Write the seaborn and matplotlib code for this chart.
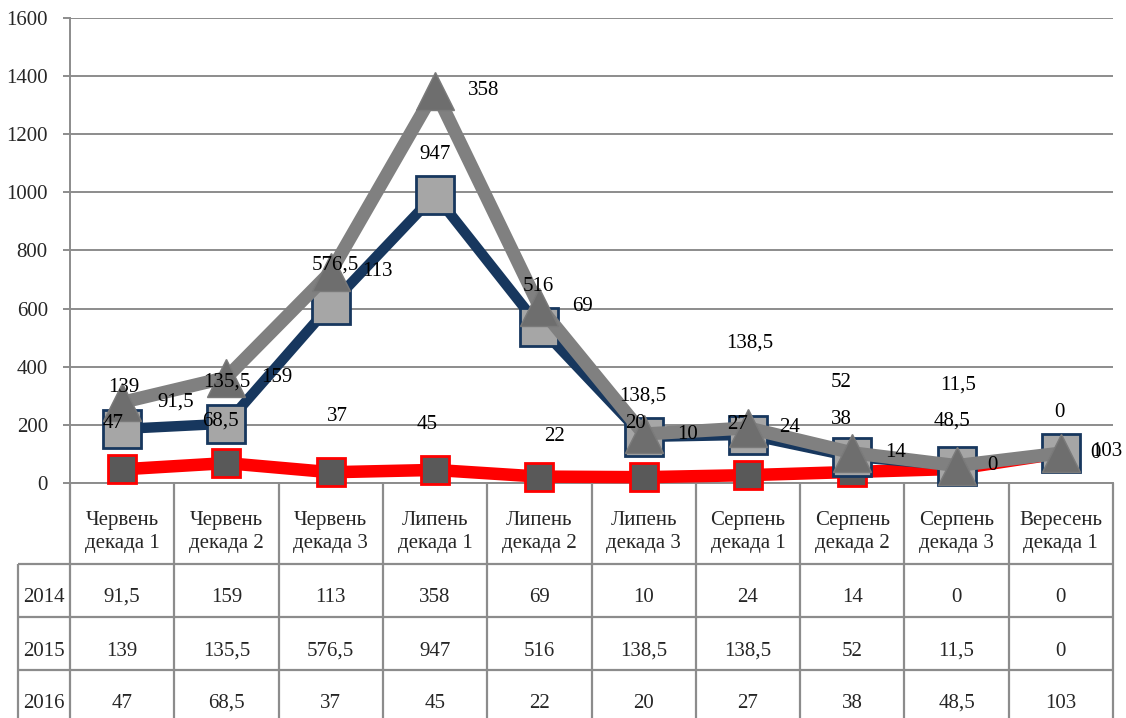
import matplotlib
matplotlib.use("Agg")
from matplotlib import pyplot as plt
import pandas as pd
import seaborn as sns
import numpy as np

# дані
periods = ["Червень\nдекада 1", "Червень\nдекада 2", "Червень\nдекада 3",
           "Липень\nдекада 1", "Липень\nдекада 2", "Липень\nдекада 3",
           "Серпень\nдекада 1", "Серпень\nдекада 2", "Серпень\nдекада 3",
           "Вересень\nдекада 1"]
years = ["2014", "2015", "2016"]
y2014 = [91.5, 159, 113, 358, 69, 10, 24, 14, 0, 0]
y2015 = [139, 135.5, 576.5, 947, 516, 138.5, 138.5, 52, 11.5, 0]
y2016 = [47, 68.5, 37, 45, 22, 20, 27, 38, 48.5, 103]

# зсуви підписів у пікселях (dx, dy)
off2016 = [(-9, 46), (-6, 42), (7, 56), (-8, 45), (15, 40), (-8, 54),
           (-10, 51), (-11, 52), (-5, 48), (46, 2)]
off2015 = [(2, 41), (0, 42), (5, 40), (0, 40), (-1, 40), (-1, 41),
           (2, 92), (-11, 74), (2, 81), (-1, 41)]
off2014 = [(54, 0), (50, 0), (47, 0), (49, 0), (43, 0), (44, 0),
           (42, 0), (43, 0), (36, 0), (35, 0)]


def fmt(v):
    if float(v).is_integer():
        return str(int(v))
    return str(v).replace(".", ",")


W, H = 1126, 718
L, R, T, B = 70, 1113, 18, 483
FS = 15

sns.set_style("white")
plt.rcParams["font.family"] = ["Liberation Serif", "DejaVu Serif"]

x = np.arange(len(periods))
s16 = np.array(y2016, dtype=float)
s15 = s16 + np.array(y2015)
s14 = s15 + np.array(y2014)
df = pd.DataFrame({"x": x, "s16": s16, "s15": s15, "s14": s14})

fig = plt.figure(figsize=(W / 100, H / 100), dpi=100)
ax = fig.add_axes([L / W, 1 - B / H, (R - L) / W, (B - T) / H])

grid_c = "#8c8c8c"
sns.lineplot(data=df, x="x", y="s16", ax=ax, color="#ff0000", linewidth=9,
             marker="s", markersize=20, markerfacecolor="#595959",
             markeredgecolor="#ff0000", markeredgewidth=2, clip_on=False,
             zorder=3)
sns.lineplot(data=df, x="x", y="s15", ax=ax, color="#17375e", linewidth=7.5,
             marker="s", markersize=27, markerfacecolor="#a6a6a6",
             markeredgecolor="#17375e", markeredgewidth=2, clip_on=False,
             zorder=4)
sns.lineplot(data=df, x="x", y="s14", ax=ax, color="#808080", linewidth=9.5,
             marker="^", markersize=27, markerfacecolor="#6e6e6e",
             markeredgecolor="#7a7a7a", markeredgewidth=1, clip_on=False,
             zorder=5)

for vals, tops, offs in [(y2016, s16, off2016), (y2015, s15, off2015),
                         (y2014, s14, off2014)]:
    for i, v in enumerate(vals):
        ax.annotate(fmt(v), (x[i], tops[i]), xytext=offs[i],
                    textcoords="offset pixels", ha="center", va="center",
                    fontsize=FS, color="black", zorder=10,
                    annotation_clip=False)

ax.set_xlim(-0.5, len(periods) - 0.5)
ax.set_ylim(0, 1600)
ax.set_yticks(range(0, 1601, 200))
ax.set_xticks([])
ax.set_xlabel("")
ax.set_ylabel("")
ax.yaxis.grid(True, color=grid_c, linewidth=1.4)
ax.set_axisbelow(True)
ax.tick_params(axis="y", length=5, width=1.4, color=grid_c, pad=11,
               labelsize=FS, left=True)
for s in ["top", "right"]:
    ax.spines[s].set_visible(False)
for s in ["left", "bottom"]:
    ax.spines[s].set_color(grid_c)
    ax.spines[s].set_linewidth(1.4)

# таблиця даних
LBL = 18
tb = fig.add_axes([LBL / W, 0, (R - LBL) / W, (H - B) / H])
tb.set_xlim(LBL, R)
tb.set_ylim(H - B, 0)
tb.axis("off")
cw = (R - L) / len(periods)
rows = [0, 81, 134, 187]
lk = dict(color=grid_c, linewidth=1.6, solid_capstyle="butt")
for k in range(len(periods) + 1):
    tb.plot([L + k * cw] * 2, [0, H - B], clip_on=False, **lk)
tb.plot([LBL, LBL], [rows[1], H - B], clip_on=False, **lk)
for r in rows[1:]:
    tb.plot([LBL, R], [r, r], clip_on=False, **lk)

for k, p in enumerate(periods):
    tb.text(L + (k + 0.5) * cw, 49, p, ha="center", va="center",
            fontsize=FS, linespacing=1.25)
centers = [114, 168, 220]
for yr, vals, yc in zip(years, [y2014, y2015, y2016], centers):
    tb.text(LBL + 5, yc, yr, ha="left", va="center", fontsize=FS)
    for k, v in enumerate(vals):
        tb.text(L + (k + 0.5) * cw, yc, fmt(v), ha="center", va="center",
                fontsize=FS)

fig.savefig("out.png", dpi=100)
